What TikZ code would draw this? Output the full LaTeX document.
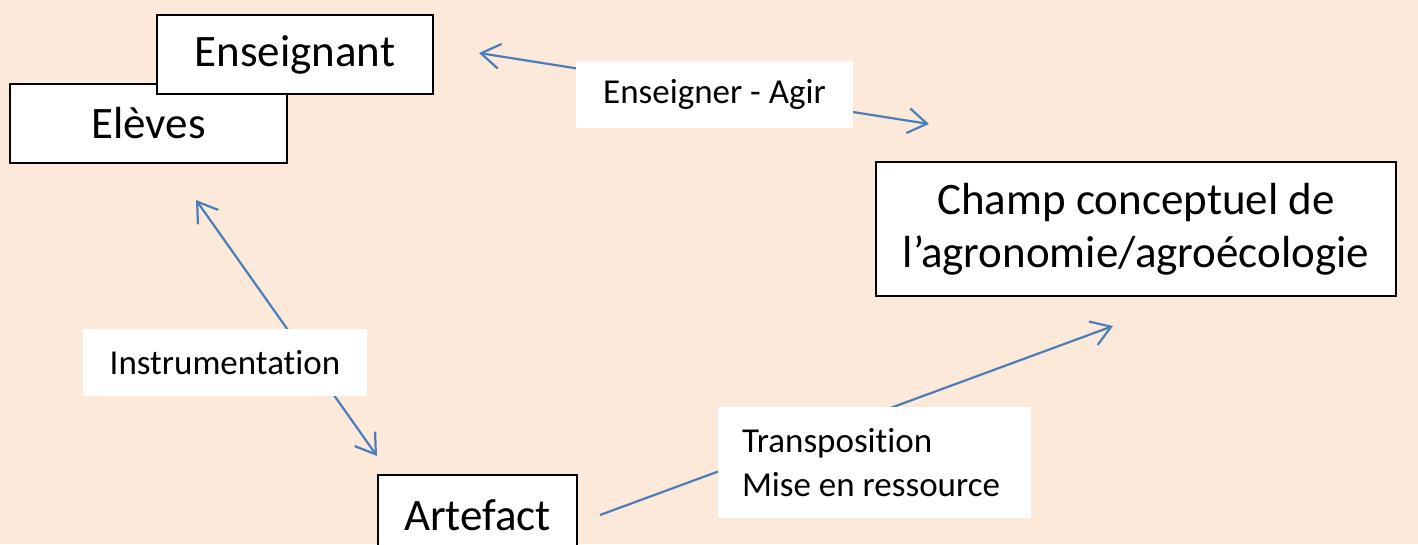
\documentclass[tikz,border=0pt]{standalone}
\usepackage{fontspec}
\setmainfont{Carlito}[Ligatures=NoCommon]
\usetikzlibrary{arrows.meta}
\definecolor{bgpeach}{HTML}{FDE9D9}
\definecolor{arrowblue}{HTML}{4A7EBB}
\tikzset{
  mainbox/.style={draw=black, line width=1.8pt, fill=white, inner sep=0pt,
    font=\fontsize{45}{53.5}\selectfont, align=center},
  labelbox/.style={fill=white, inner sep=0pt, font=\fontsize{35}{44}\selectfont},
  link/.style={draw=arrowblue, line width=2.2pt},
  barb/.tip={Straight Barb[length=19pt,width=25pt]}
}
\begin{document}
\begin{tikzpicture}[x=1pt,y=-1pt]
\useasboundingbox (0,0) rectangle (1418,544);
\fill[bgpeach] (0,0) rectangle (1418,544);
\clip (0,0) rectangle (1418,544);

% boxes
\node[mainbox, minimum width=277pt, minimum height=79pt] (eleves) at (148.5,123.5) {Elèves};
\node[mainbox, minimum width=276pt, minimum height=79pt] (ens) at (295,54.5) {Enseignant};
\node[mainbox, minimum width=520pt, minimum height=134pt] (champ) at (1136,229) {Champ conceptuel de\\l’agronomie/agroécologie};
\node[mainbox, minimum width=199pt, minimum height=80pt] (art) at (477.5,515) {Artefact};

% arrow ends
\coordinate (a1) at (479,53);
\coordinate (a2) at (929,124);
\coordinate (b1) at (196,200);
\coordinate (b2) at (377,456);
\coordinate (c1) at (600,515);
\coordinate (c2) at (1113,326);

\draw[link, barb-barb] (a1) -- (a2);
\draw[link, barb-barb] (b1) -- (b2);
\draw[link, -barb] (c1) -- (c2);

% labels
\node[labelbox, minimum width=277pt, minimum height=67pt] (lagir) at (714.5,94.5) {Enseigner - Agir};
\node[labelbox, minimum width=284pt, minimum height=67pt] (linstr) at (225,362.5) {Instrumentation};
\node[labelbox, inner xsep=24pt, text width=265pt, minimum height=111pt, align=flush left] (ltrans) at (874.5,462.5) {Transposition\\Mise en ressource};
\end{tikzpicture}
\end{document}
